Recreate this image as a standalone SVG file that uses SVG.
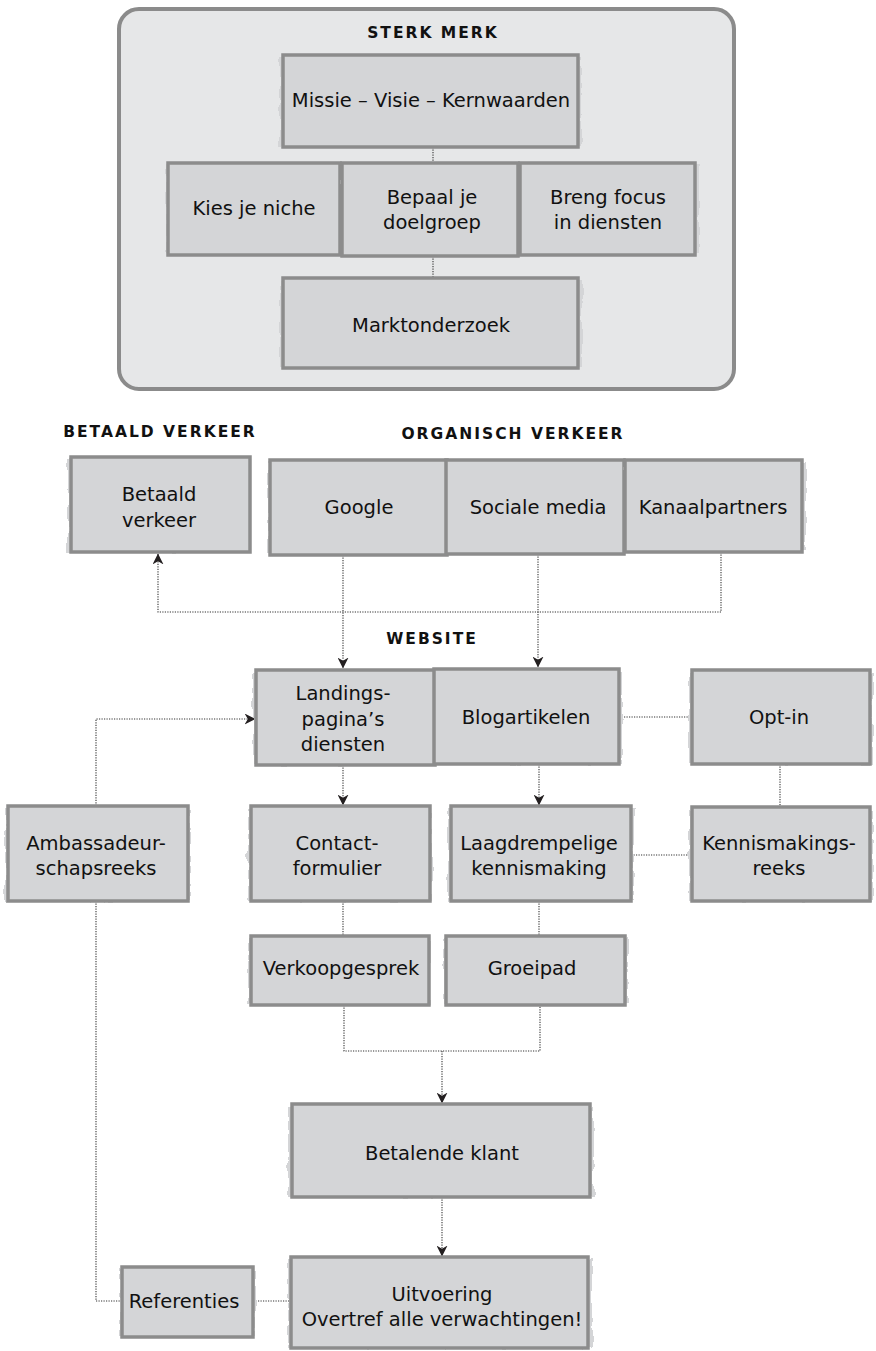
<svg xmlns="http://www.w3.org/2000/svg" width="876" height="1351" viewBox="0 0 876 1351">
<defs>
<style>
.frame{fill:#e6e7e8;stroke:#8b8b8b;stroke-width:4}
.brush{fill:#d4d5d7;filter:url(#rough)}
.box{fill:#d4d5d7;stroke:#8c8c8c;stroke-width:3.5}
.t{font-family:"DejaVu Sans","Liberation Sans",sans-serif;font-size:19.5px;fill:#111;text-anchor:middle}
.h{font-family:"DejaVu Sans","Liberation Sans",sans-serif;font-size:15.5px;font-weight:bold;letter-spacing:2px;fill:#111;text-anchor:middle}
.c{fill:none;stroke:#333;stroke-width:1.1;stroke-dasharray:1.2 1.3}
</style>
<filter id="rough" x="-5%" y="-10%" width="110%" height="120%">
<feTurbulence type="fractalNoise" baseFrequency="0.08" numOctaves="2" seed="3"/>
<feDisplacementMap in="SourceGraphic" scale="7" xChannelSelector="R" yChannelSelector="G"/>
</filter>
<marker id="arr" viewBox="0 0 10 10" refX="9.5" refY="5" markerWidth="11" markerHeight="11" markerUnits="userSpaceOnUse" orient="auto">
<path d="M0,0 L10,5 L0,10 L3,5 Z" fill="#231f20"/>
</marker>
</defs>
<rect width="876" height="1351" fill="#fff"/>

<g id="sterk-merk-frame">
<rect class="frame" x="119" y="9" width="615" height="380" rx="20"/>
<text class="h" x="433" y="38">STERK MERK</text>
</g>
<text class="h" x="160" y="437">BETAALD VERKEER</text>
<text class="h" x="513" y="439">ORGANISCH VERKEER</text>
<text class="h" x="432" y="644">WEBSITE</text>

<g id="connectors">
<path class="c" d="M433,147 V163"/>
<path class="c" d="M433,256 V278"/>
<path class="c" d="M721,552 V612 H158 V554" marker-end="url(#arr)"/>
<path class="c" d="M343,555 V668" marker-end="url(#arr)"/>
<path class="c" d="M538,554 V667" marker-end="url(#arr)"/>
<path class="c" d="M619,717 H692"/>
<path class="c" d="M343,765 V805" marker-end="url(#arr)"/>
<path class="c" d="M539,764 V805" marker-end="url(#arr)"/>
<path class="c" d="M780,764 V807"/>
<path class="c" d="M631,855 H692"/>
<path class="c" d="M343,901 V936"/>
<path class="c" d="M539,901 V936"/>
<path class="c" d="M344,1005 V1051 H540 V1005"/>
<path class="c" d="M442,1051 V1103" marker-end="url(#arr)"/>
<path class="c" d="M442,1197 V1256" marker-end="url(#arr)"/>
<path class="c" d="M96,806 V719 H255" marker-end="url(#arr)"/>
<path class="c" d="M96,901 V1301 H122"/>
<path class="c" d="M253,1301 H291"/>
</g>

<g id="missie"><rect class="brush" x="280" y="58" width="302" height="88"/><rect class="box" x="283" y="55" width="295" height="92"/><text class="t" x="431" y="107">Missie – Visie – Kernwaarden</text></g>
<g id="niche"><rect class="brush" x="166" y="165" width="176" height="88"/><rect class="box" x="168" y="163" width="172" height="92"/><text class="t" x="254" y="215">Kies je niche</text></g>
<g id="doelgroep"><rect class="brush" x="342" y="165" width="178" height="89"/><rect class="box" x="342" y="163" width="176" height="93"/><text class="t" x="432" y="204">Bepaal je</text><text class="t" x="432" y="229">doelgroep</text></g>
<g id="focus"><rect class="brush" x="520" y="165" width="179" height="88"/><rect class="box" x="520" y="163" width="175" height="92"/><text class="t" x="608" y="204">Breng focus</text><text class="t" x="608" y="229">in diensten</text></g>
<g id="markt"><rect class="brush" x="280" y="281" width="302" height="86"/><rect class="box" x="283" y="278" width="295" height="90"/><text class="t" x="431" y="332">Marktonderzoek</text></g>

<g id="betaald"><rect class="brush" x="68" y="460" width="182" height="92"/><rect class="box" x="71" y="457" width="179" height="95"/><text class="t" x="159" y="501">Betaald</text><text class="t" x="159" y="527">verkeer</text></g>
<g id="google"><rect class="brush" x="268" y="462" width="180" height="92"/><rect class="box" x="270" y="460" width="177" height="95"/><text class="t" x="359" y="514">Google</text></g>
<g id="sociale"><rect class="brush" x="446" y="462" width="180" height="90"/><rect class="box" x="446" y="460" width="178" height="94"/><text class="t" x="538" y="514">Sociale media</text></g>
<g id="kanaal"><rect class="brush" x="625" y="462" width="181" height="88"/><rect class="box" x="625" y="460" width="177" height="92"/><text class="t" x="713" y="514">Kanaalpartners</text></g>

<g id="landings"><rect class="brush" x="253" y="673" width="184" height="92"/><rect class="box" x="256" y="670" width="179" height="95"/><text class="t" x="343" y="700">Landings-</text><text class="t" x="343" y="726">pagina’s</text><text class="t" x="343" y="751">diensten</text></g>
<g id="blog"><rect class="brush" x="436" y="672" width="186" height="92"/><rect class="box" x="434" y="669" width="185" height="95"/><text class="t" x="526" y="724">Blogartikelen</text></g>
<g id="optin"><rect class="brush" x="689" y="673" width="184" height="91"/><rect class="box" x="692" y="670" width="178" height="94"/><text class="t" x="779" y="724">Opt-in</text></g>

<g id="ambassadeur"><rect class="brush" x="5" y="809" width="185" height="92"/><rect class="box" x="8" y="806" width="180" height="95"/><text class="t" x="96" y="850">Ambassadeur-</text><text class="t" x="96" y="875">schapsreeks</text></g>
<g id="contact"><rect class="brush" x="248" y="809" width="184" height="92"/><rect class="box" x="251" y="806" width="179" height="95"/><text class="t" x="337" y="850">Contact-</text><text class="t" x="337" y="875">formulier</text></g>
<g id="laag"><rect class="brush" x="448" y="809" width="186" height="92"/><rect class="box" x="451" y="806" width="180" height="95"/><text class="t" x="539" y="850">Laagdrempelige</text><text class="t" x="539" y="875">kennismaking</text></g>
<g id="kennis"><rect class="brush" x="689" y="810" width="184" height="91"/><rect class="box" x="692" y="807" width="178" height="94"/><text class="t" x="779" y="850">Kennismakings-</text><text class="t" x="779" y="875">reeks</text></g>

<g id="verkoop"><rect class="brush" x="248" y="938" width="182" height="66"/><rect class="box" x="251" y="936" width="178" height="69"/><text class="t" x="341" y="975">Verkoopgesprek</text></g>
<g id="groeipad"><rect class="brush" x="444" y="938" width="184" height="66"/><rect class="box" x="446" y="936" width="179" height="69"/><text class="t" x="532" y="975">Groeipad</text></g>

<g id="betalende"><rect class="brush" x="288" y="1107" width="306" height="90"/><rect class="box" x="292" y="1104" width="298" height="93"/><text class="t" x="442" y="1160">Betalende klant</text></g>
<g id="uitvoering"><rect class="brush" x="288" y="1260" width="304" height="88"/><rect class="box" x="291" y="1257" width="297" height="91"/><text class="t" x="442" y="1301">Uitvoering</text><text class="t" x="442" y="1326">Overtref alle verwachtingen!</text></g>
<g id="referenties"><rect class="brush" x="120" y="1269" width="135" height="67"/><rect class="box" x="122" y="1267" width="131" height="70"/><text class="t" x="184" y="1308">Referenties</text></g>
</svg>
